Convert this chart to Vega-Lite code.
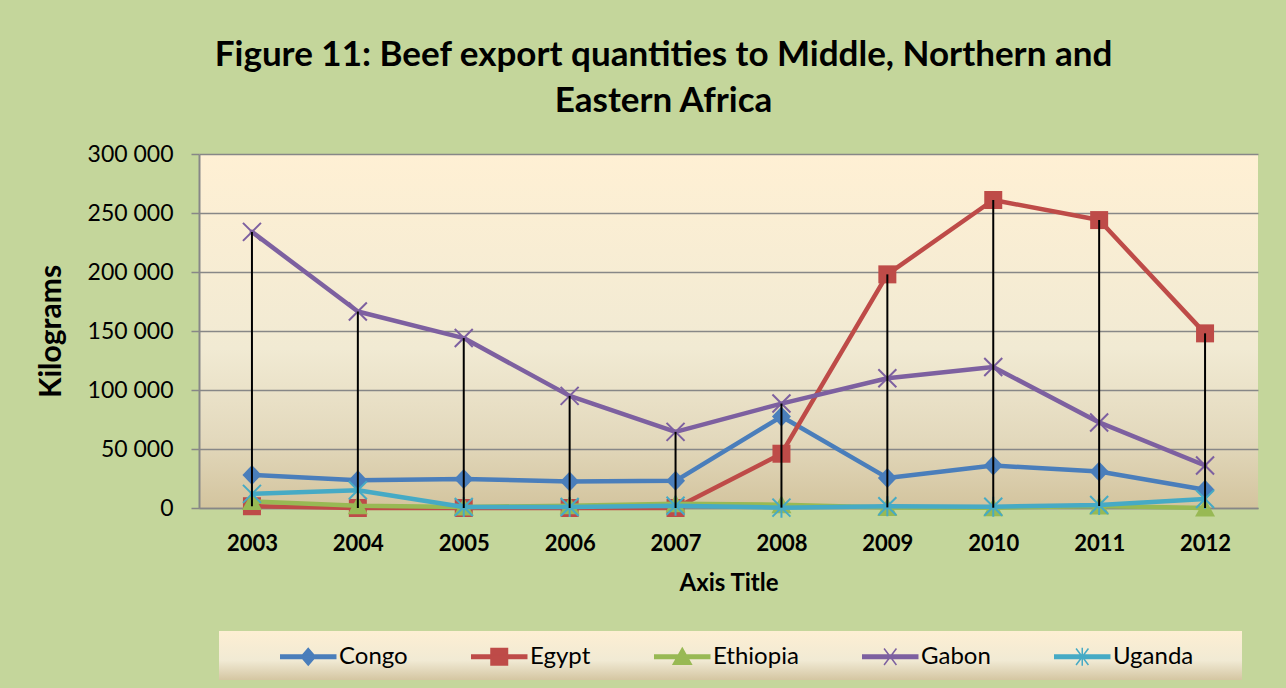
{
  "$schema": "https://vega.github.io/schema/vega-lite/v6.json",
  "width": 1059,
  "height": 354,
  "autosize": {"type": "none"},
  "padding": {"left": 199, "top": 154, "right": 28, "bottom": 180},
  "background": "#c4d69b",
  "title": {
    "text": ["Figure 11: Beef export quantities to Middle, Northern and", "Eastern Africa"],
    "font": "Lato",
    "fontSize": 35,
    "fontWeight": "bold",
    "color": "#000000",
    "anchor": "middle",
    "dx": -65,
    "lineHeight": 46,
    "offset": 24
  },
  "config": {
    "font": "Lato",
    "view": {
      "stroke": null,
      "fill": {
        "gradient": "linear", "x1": 0, "y1": 0, "x2": 0, "y2": 1,
        "stops": [
          {"offset": 0, "color": "#fff0d4"},
          {"offset": 0.55, "color": "#f1ead3"},
          {"offset": 0.8, "color": "#e3d9bd"},
          {"offset": 1, "color": "#d3c49e"}
        ]
      }
    }
  },
  "data": {
    "values": [
      {"Year": "2003", "Country": "Congo", "Kg": 28000},
      {"Year": "2004", "Country": "Congo", "Kg": 23500},
      {"Year": "2005", "Country": "Congo", "Kg": 24500},
      {"Year": "2006", "Country": "Congo", "Kg": 22500},
      {"Year": "2007", "Country": "Congo", "Kg": 23000},
      {"Year": "2008", "Country": "Congo", "Kg": 77500},
      {"Year": "2009", "Country": "Congo", "Kg": 25500},
      {"Year": "2010", "Country": "Congo", "Kg": 36000},
      {"Year": "2011", "Country": "Congo", "Kg": 31000},
      {"Year": "2012", "Country": "Congo", "Kg": 15500},
      {"Year": "2003", "Country": "Egypt", "Kg": 1500},
      {"Year": "2004", "Country": "Egypt", "Kg": 0},
      {"Year": "2005", "Country": "Egypt", "Kg": 0},
      {"Year": "2006", "Country": "Egypt", "Kg": 0},
      {"Year": "2007", "Country": "Egypt", "Kg": 0},
      {"Year": "2008", "Country": "Egypt", "Kg": 46000},
      {"Year": "2009", "Country": "Egypt", "Kg": 198000},
      {"Year": "2010", "Country": "Egypt", "Kg": 261000},
      {"Year": "2011", "Country": "Egypt", "Kg": 244000},
      {"Year": "2012", "Country": "Egypt", "Kg": 148000},
      {"Year": "2003", "Country": "Ethiopia", "Kg": 5500},
      {"Year": "2004", "Country": "Ethiopia", "Kg": 2000},
      {"Year": "2005", "Country": "Ethiopia", "Kg": 900},
      {"Year": "2006", "Country": "Ethiopia", "Kg": 2000},
      {"Year": "2007", "Country": "Ethiopia", "Kg": 3500},
      {"Year": "2008", "Country": "Ethiopia", "Kg": 2800},
      {"Year": "2009", "Country": "Ethiopia", "Kg": 500},
      {"Year": "2010", "Country": "Ethiopia", "Kg": 300},
      {"Year": "2011", "Country": "Ethiopia", "Kg": 1700},
      {"Year": "2012", "Country": "Ethiopia", "Kg": 0},
      {"Year": "2003", "Country": "Gabon", "Kg": 234000},
      {"Year": "2004", "Country": "Gabon", "Kg": 166500},
      {"Year": "2005", "Country": "Gabon", "Kg": 144000},
      {"Year": "2006", "Country": "Gabon", "Kg": 95000},
      {"Year": "2007", "Country": "Gabon", "Kg": 64500},
      {"Year": "2008", "Country": "Gabon", "Kg": 88500},
      {"Year": "2009", "Country": "Gabon", "Kg": 110000},
      {"Year": "2010", "Country": "Gabon", "Kg": 119500},
      {"Year": "2011", "Country": "Gabon", "Kg": 72500},
      {"Year": "2012", "Country": "Gabon", "Kg": 36000},
      {"Year": "2003", "Country": "Uganda", "Kg": 12000},
      {"Year": "2004", "Country": "Uganda", "Kg": 15000},
      {"Year": "2005", "Country": "Uganda", "Kg": 800},
      {"Year": "2006", "Country": "Uganda", "Kg": 800},
      {"Year": "2007", "Country": "Uganda", "Kg": 1900},
      {"Year": "2008", "Country": "Uganda", "Kg": 300},
      {"Year": "2009", "Country": "Uganda", "Kg": 1500},
      {"Year": "2010", "Country": "Uganda", "Kg": 1100},
      {"Year": "2011", "Country": "Uganda", "Kg": 2500},
      {"Year": "2012", "Country": "Uganda", "Kg": 7600}
    ]
  },
  "encoding": {
    "x": {
      "field": "Year",
      "type": "ordinal",
      "scale": {"type": "point", "padding": 0.5},
      "axis": {
        "title": "Axis Title",
        "labelAngle": 0,
        "labelFont": "Lato",
        "labelFontSize": 22,
        "labelFontWeight": "bold",
        "labelColor": "#000000",
        "labelPadding": 25,
        "ticks": false,
        "tickSize": 0,
        "domain": true,
        "domainColor": "#878787",
        "domainWidth": 1.5,
        "grid": false,
        "titleFont": "Lato",
        "titleFontSize": 24,
        "titleFontWeight": "bold",
        "titleColor": "#000000",
        "titlePadding": 17
      }
    },
    "y": {
      "field": "Kg",
      "type": "quantitative",
      "title": "Kilograms",
      "scale": {"domain": [0, 300000], "nice": false},
      "axis": {
        "values": [0, 50000, 100000, 150000, 200000, 250000, 300000],
        "labelExpr": "replace(format(datum.value, ','), ',', ' ')",
        "labelFont": "Lato",
        "labelFontSize": 23,
        "labelColor": "#000000",
        "labelPadding": 18,
        "tickSize": 8,
        "tickColor": "#878787",
        "tickWidth": 1.5,
        "domainColor": "#878787",
        "domainWidth": 2,
        "gridColor": "#878787",
        "gridWidth": 1.5,
        "titleFont": "Lato",
        "titleFontSize": 30,
        "titleFontWeight": "bold",
        "titleColor": "#000000",
        "titlePadding": 21
      }
    }
  },
  "layer": [
    {
      "transform": [{"filter": "datum.Country == 'Congo'"}],
      "mark": {"type": "line", "color": "#4a7ebb", "strokeWidth": 4.5, "strokeJoin": "round", "strokeCap": "round",
        "point": {"filled": true, "opacity": 1, "color": "#4a7ebb", "size": 400, "shape": "M0,-1L0.95,0L0,1L-0.95,0Z"}}
    },
    {
      "transform": [{"filter": "datum.Country == 'Egypt'"}],
      "mark": {"type": "line", "color": "#be4b48", "strokeWidth": 4.5, "strokeJoin": "round", "strokeCap": "round",
        "point": {"filled": true, "opacity": 1, "color": "#be4b48", "size": 400, "shape": "M-0.9,-0.9L0.9,-0.9L0.9,0.9L-0.9,0.9Z"}}
    },
    {
      "transform": [{"filter": "datum.Country == 'Ethiopia'"}],
      "mark": {"type": "line", "color": "#98b954", "strokeWidth": 4.5, "strokeJoin": "round", "strokeCap": "round",
        "point": {"filled": true, "opacity": 1, "color": "#98b954", "size": 400, "shape": "M0,-0.95L1,0.85L-1,0.85Z"}}
    },
    {
      "transform": [{"filter": "datum.Country == 'Gabon'"}],
      "mark": {"type": "line", "color": "#7d60a0", "strokeWidth": 4.5, "strokeJoin": "round", "strokeCap": "round",
        "point": {"filled": false, "opacity": 1, "color": "#7d60a0", "strokeWidth": 2, "size": 400, "shape": "M-0.9,-0.9L0.9,0.9M-0.9,0.9L0.9,-0.9"}}
    },
    {
      "transform": [{"filter": "datum.Country == 'Uganda'"}],
      "mark": {"type": "line", "color": "#46aac5", "strokeWidth": 4.5, "strokeJoin": "round", "strokeCap": "round",
        "point": {"filled": false, "opacity": 1, "color": "#46aac5", "strokeWidth": 2, "size": 400, "shape": "M-0.9,-0.9L0.9,0.9M-0.9,0.9L0.9,-0.9M0,-1L0,1"}}
    },
    {
      "transform": [
        {"aggregate": [{"op": "max", "field": "Kg", "as": "hi"}, {"op": "min", "field": "Kg", "as": "lo"}], "groupby": ["Year"]}
      ],
      "mark": {"type": "rule", "color": "#000000", "strokeWidth": 2},
      "encoding": {
        "y": {"field": "hi", "type": "quantitative", "title": "Kilograms"},
        "y2": {"field": "lo"}
      }
    },
    {
      "transform": [{"filter": "datum.Year == '2003'"}],
      "mark": {"type": "point", "filled": true, "opacity": 0},
      "encoding": {
        "color": {
          "field": "Country",
          "type": "nominal",
          "scale": {
            "domain": ["Congo", "Egypt", "Ethiopia", "Gabon", "Uganda"],
            "range": ["#4a7ebb", "#be4b48", "#98b954", "#7d60a0", "#46aac5"]
          },
          "legend": {
            "orient": "none",
            "legendX": 20,
            "legendY": 477,
            "direction": "horizontal",
            "columns": 5,
            "symbolSize": 756,
            "symbolOpacity": 1,
            "labelOffset": 30,
            "columnPadding": 60,
            "padding": 11,
            "title": " ",
            "titleOrient": "left",
            "titleFontSize": 1,
            "titlePadding": 50,
            "labelFont": "Lato",
            "labelFontSize": 24,
            "labelColor": "#000000",
            "labelLimit": 300,
            "labelExpr": "datum.label == 'Uganda' ? 'Uganda\u00a0\u00a0\u00a0\u00a0\u00a0\u00a0\u200b' : datum.label",
            "encode": {
              "legend": {
                "update": {
                  "fill": {"value": {
                    "gradient": "linear", "x1": 0, "y1": 0, "x2": 0, "y2": 1,
                    "stops": [
                      {"offset": 0, "color": "#fdefd3"},
                      {"offset": 0.6, "color": "#f1ead4"},
                      {"offset": 1, "color": "#d4c6a2"}
                    ]
                  }}
                }
              },
              "symbols": {
                "update": {
                  "stroke": {"scale": "color", "field": "value"},
                  "strokeWidth": {"value": 1.5},
                  "opacity": {"value": 1}
                }
              }
            }
          }
        },
        "shape": {
          "field": "Country",
          "type": "nominal",
          "scale": {
            "domain": ["Congo", "Egypt", "Ethiopia", "Gabon", "Uganda"],
            "range": [
              "M-1,-0.12L3,-0.12L3,0.12L-1,0.12Z M1,-0.6L1.52,0L1,0.6L0.48,0Z",
              "M-1,-0.12L3,-0.12L3,0.12L-1,0.12Z M0.4,-0.6L1.6,-0.6L1.6,0.6L0.4,0.6Z",
              "M-1,-0.12L3,-0.12L3,0.12L-1,0.12Z M1,-0.62L1.66,0.55L0.34,0.55Z",
              "M-1,-0.12L3,-0.12L3,0.12L-1,0.12Z M0.55,-0.6L1.45,0.6M0.55,0.6L1.45,-0.6",
              "M-1,-0.12L3,-0.12L3,0.12L-1,0.12Z M0.55,-0.6L1.45,0.6M0.55,0.6L1.45,-0.6M1,-0.65L1,0.65"
            ]
          }
        }
      }
    }
  ]
}
